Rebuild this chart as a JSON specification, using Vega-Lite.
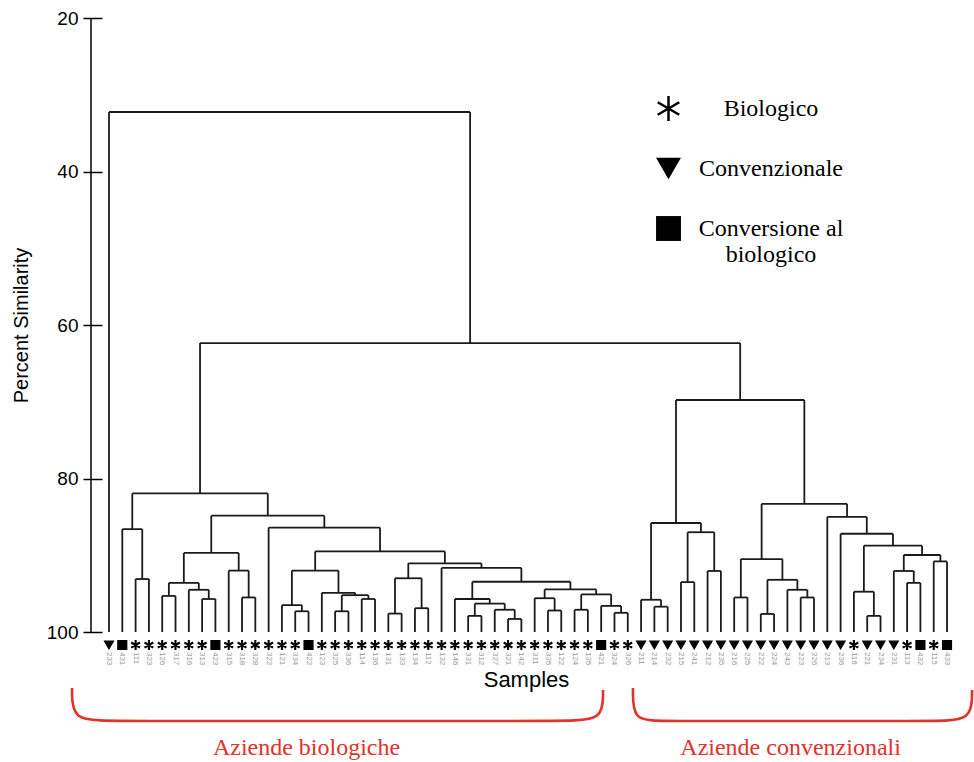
{
  "$schema": "https://vega.github.io/schema/vega-lite/v6.json",
  "width": 870,
  "height": 614,
  "autosize": {"type": "none"},
  "padding": {"left": 91, "top": 18, "right": 13, "bottom": 130},
  "background": "white",
  "config": {"view": {"stroke": null}, "axis": {"grid": false}},
  "datasets": {
    "nodes": [
      {"x1": 3, "h1": 100, "x2": 4, "h2": 100, "h": 93.1},
      {"x1": 2, "h1": 100, "x2": 3.5, "h2": 93.1, "h": 86.6},
      {"x1": 5, "h1": 100, "x2": 6, "h2": 100, "h": 95.3},
      {"x1": 8, "h1": 100, "x2": 9, "h2": 100, "h": 95.7},
      {"x1": 7, "h1": 100, "x2": 8.5, "h2": 95.7, "h": 94.5},
      {"x1": 5.5, "h1": 95.3, "x2": 7.75, "h2": 94.5, "h": 93.6},
      {"x1": 11, "h1": 100, "x2": 12, "h2": 100, "h": 95.5},
      {"x1": 10, "h1": 100, "x2": 11.5, "h2": 95.5, "h": 92.0},
      {"x1": 6.625, "h1": 93.6, "x2": 10.75, "h2": 92.0, "h": 89.7},
      {"x1": 15, "h1": 100, "x2": 16, "h2": 100, "h": 97.3},
      {"x1": 14, "h1": 100, "x2": 15.5, "h2": 97.3, "h": 96.5},
      {"x1": 18, "h1": 100, "x2": 19, "h2": 100, "h": 97.3},
      {"x1": 20, "h1": 100, "x2": 21, "h2": 100, "h": 95.7},
      {"x1": 18.5, "h1": 97.3, "x2": 20.5, "h2": 95.7, "h": 95.2},
      {"x1": 17, "h1": 100, "x2": 19.5, "h2": 95.2, "h": 94.9},
      {"x1": 14.75, "h1": 96.5, "x2": 18.25, "h2": 94.9, "h": 92.0},
      {"x1": 22, "h1": 100, "x2": 23, "h2": 100, "h": 97.6},
      {"x1": 24, "h1": 100, "x2": 25, "h2": 100, "h": 96.9},
      {"x1": 22.5, "h1": 97.6, "x2": 24.5, "h2": 96.9, "h": 93.0},
      {"x1": 28, "h1": 100, "x2": 29, "h2": 100, "h": 97.9},
      {"x1": 31, "h1": 100, "x2": 32, "h2": 100, "h": 98.3},
      {"x1": 30, "h1": 100, "x2": 31.5, "h2": 98.3, "h": 97.1},
      {"x1": 28.5, "h1": 97.9, "x2": 30.75, "h2": 97.1, "h": 96.3},
      {"x1": 27, "h1": 100, "x2": 29.625, "h2": 96.3, "h": 95.7},
      {"x1": 34, "h1": 100, "x2": 35, "h2": 100, "h": 97.2},
      {"x1": 33, "h1": 100, "x2": 34.5, "h2": 97.2, "h": 95.6},
      {"x1": 36, "h1": 100, "x2": 37, "h2": 100, "h": 97.1},
      {"x1": 39, "h1": 100, "x2": 40, "h2": 100, "h": 97.5},
      {"x1": 38, "h1": 100, "x2": 39.5, "h2": 97.5, "h": 96.6},
      {"x1": 36.5, "h1": 97.1, "x2": 38.75, "h2": 96.6, "h": 95.1},
      {"x1": 33.75, "h1": 95.6, "x2": 37.625, "h2": 95.1, "h": 94.45},
      {"x1": 28.3125, "h1": 95.7, "x2": 35.6875, "h2": 94.45, "h": 93.45},
      {"x1": 26, "h1": 100, "x2": 32, "h2": 93.45, "h": 91.65},
      {"x1": 23.5, "h1": 93.0, "x2": 29, "h2": 91.65, "h": 91.05},
      {"x1": 16.5, "h1": 92.0, "x2": 26.25, "h2": 91.05, "h": 89.5},
      {"x1": 13, "h1": 100, "x2": 21.375, "h2": 89.5, "h": 86.4},
      {"x1": 8.6875, "h1": 89.7, "x2": 17.1875, "h2": 86.4, "h": 84.85},
      {"x1": 2.75, "h1": 86.6, "x2": 12.9375, "h2": 84.85, "h": 81.95},
      {"x1": 42, "h1": 100, "x2": 43, "h2": 100, "h": 96.7},
      {"x1": 41, "h1": 100, "x2": 42.5, "h2": 96.7, "h": 95.8},
      {"x1": 44, "h1": 100, "x2": 45, "h2": 100, "h": 93.5},
      {"x1": 46, "h1": 100, "x2": 47, "h2": 100, "h": 92.05},
      {"x1": 44.5, "h1": 93.5, "x2": 46.5, "h2": 92.05, "h": 87.0},
      {"x1": 41.75, "h1": 95.8, "x2": 45.5, "h2": 87.0, "h": 85.8},
      {"x1": 48, "h1": 100, "x2": 49, "h2": 100, "h": 95.5},
      {"x1": 50, "h1": 100, "x2": 51, "h2": 100, "h": 97.65},
      {"x1": 53, "h1": 100, "x2": 54, "h2": 100, "h": 95.5},
      {"x1": 52, "h1": 100, "x2": 53.5, "h2": 95.5, "h": 94.5},
      {"x1": 50.5, "h1": 97.65, "x2": 52.75, "h2": 94.5, "h": 93.2},
      {"x1": 48.5, "h1": 95.5, "x2": 51.625, "h2": 93.2, "h": 90.5},
      {"x1": 58, "h1": 100, "x2": 59, "h2": 100, "h": 97.9},
      {"x1": 57, "h1": 100, "x2": 58.5, "h2": 97.9, "h": 94.75},
      {"x1": 61, "h1": 100, "x2": 62, "h2": 100, "h": 93.6},
      {"x1": 60, "h1": 100, "x2": 61.5, "h2": 93.6, "h": 92.05},
      {"x1": 63, "h1": 100, "x2": 64, "h2": 100, "h": 90.8},
      {"x1": 60.75, "h1": 92.05, "x2": 63.5, "h2": 90.8, "h": 89.97},
      {"x1": 57.75, "h1": 94.75, "x2": 62.125, "h2": 89.97, "h": 88.75},
      {"x1": 56, "h1": 100, "x2": 59.9375, "h2": 88.75, "h": 87.2},
      {"x1": 55, "h1": 100, "x2": 57.96875, "h2": 87.2, "h": 85.0},
      {"x1": 50.0625, "h1": 90.5, "x2": 56.484375, "h2": 85.0, "h": 83.3},
      {"x1": 43.625, "h1": 85.8, "x2": 53.2734, "h2": 83.3, "h": 69.77},
      {"x1": 7.84375, "h1": 81.95, "x2": 48.4492, "h2": 69.77, "h": 62.35},
      {"x1": 1, "h1": 100, "x2": 28.1465, "h2": 62.35, "h": 32.25}
    ],
    "leaves": [
      {"i": 1, "s": "233", "t": "Convenzionale"},
      {"i": 2, "s": "431", "t": "Conversione al biologico"},
      {"i": 3, "s": "111", "t": "Biologico"},
      {"i": 4, "s": "323", "t": "Biologico"},
      {"i": 5, "s": "126", "t": "Biologico"},
      {"i": 6, "s": "317", "t": "Biologico"},
      {"i": 7, "s": "316", "t": "Biologico"},
      {"i": 8, "s": "313", "t": "Biologico"},
      {"i": 9, "s": "423", "t": "Conversione al biologico"},
      {"i": 10, "s": "315", "t": "Biologico"},
      {"i": 11, "s": "318", "t": "Biologico"},
      {"i": 12, "s": "328", "t": "Biologico"},
      {"i": 13, "s": "322", "t": "Biologico"},
      {"i": 14, "s": "121", "t": "Biologico"},
      {"i": 15, "s": "334", "t": "Biologico"},
      {"i": 16, "s": "422", "t": "Conversione al biologico"},
      {"i": 17, "s": "123", "t": "Biologico"},
      {"i": 18, "s": "325", "t": "Biologico"},
      {"i": 19, "s": "336", "t": "Biologico"},
      {"i": 20, "s": "114", "t": "Biologico"},
      {"i": 21, "s": "136", "t": "Biologico"},
      {"i": 22, "s": "131", "t": "Biologico"},
      {"i": 23, "s": "133", "t": "Biologico"},
      {"i": 24, "s": "134", "t": "Biologico"},
      {"i": 25, "s": "112", "t": "Biologico"},
      {"i": 26, "s": "132", "t": "Biologico"},
      {"i": 27, "s": "146", "t": "Biologico"},
      {"i": 28, "s": "331", "t": "Biologico"},
      {"i": 29, "s": "312", "t": "Biologico"},
      {"i": 30, "s": "327", "t": "Biologico"},
      {"i": 31, "s": "321", "t": "Biologico"},
      {"i": 32, "s": "142", "t": "Biologico"},
      {"i": 33, "s": "311", "t": "Biologico"},
      {"i": 34, "s": "335", "t": "Biologico"},
      {"i": 35, "s": "122", "t": "Biologico"},
      {"i": 36, "s": "124", "t": "Biologico"},
      {"i": 37, "s": "135", "t": "Biologico"},
      {"i": 38, "s": "421", "t": "Conversione al biologico"},
      {"i": 39, "s": "324", "t": "Biologico"},
      {"i": 40, "s": "326", "t": "Biologico"},
      {"i": 41, "s": "211", "t": "Convenzionale"},
      {"i": 42, "s": "214", "t": "Convenzionale"},
      {"i": 43, "s": "232", "t": "Convenzionale"},
      {"i": 44, "s": "215", "t": "Convenzionale"},
      {"i": 45, "s": "241", "t": "Convenzionale"},
      {"i": 46, "s": "212", "t": "Convenzionale"},
      {"i": 47, "s": "235", "t": "Convenzionale"},
      {"i": 48, "s": "216", "t": "Convenzionale"},
      {"i": 49, "s": "225", "t": "Convenzionale"},
      {"i": 50, "s": "222", "t": "Convenzionale"},
      {"i": 51, "s": "224", "t": "Convenzionale"},
      {"i": 52, "s": "243", "t": "Convenzionale"},
      {"i": 53, "s": "223", "t": "Convenzionale"},
      {"i": 54, "s": "226", "t": "Convenzionale"},
      {"i": 55, "s": "213", "t": "Convenzionale"},
      {"i": 56, "s": "236", "t": "Convenzionale"},
      {"i": 57, "s": "116", "t": "Biologico"},
      {"i": 58, "s": "221", "t": "Convenzionale"},
      {"i": 59, "s": "234", "t": "Convenzionale"},
      {"i": 60, "s": "231", "t": "Convenzionale"},
      {"i": 61, "s": "113", "t": "Biologico"},
      {"i": 62, "s": "432", "t": "Conversione al biologico"},
      {"i": 63, "s": "115", "t": "Biologico"},
      {"i": 64, "s": "433", "t": "Conversione al biologico"}
    ],
    "brackets": [
      {"g": "bio", "o": 1, "bx": -1.78, "by": 107.3},
      {"g": "bio", "o": 2, "bx": -1.78, "by": 111.6},
      {"g": "bio", "o": 3, "bx": 1.075, "by": 111.6},
      {"g": "bio", "o": 4, "bx": 35.28, "by": 111.6},
      {"g": "bio", "o": 5, "bx": 38.14, "by": 111.6},
      {"g": "bio", "o": 6, "bx": 38.14, "by": 107.55},
      {"g": "conv", "o": 1, "bx": 40.39, "by": 107.3},
      {"g": "conv", "o": 2, "bx": 40.39, "by": 111.6},
      {"g": "conv", "o": 3, "bx": 42.42, "by": 111.6},
      {"g": "conv", "o": 4, "bx": 63.09, "by": 111.6},
      {"g": "conv", "o": 5, "bx": 65.88, "by": 111.6},
      {"g": "conv", "o": 6, "bx": 65.88, "by": 107.56}
    ],
    "notes": [
      {"label": "Aziende biologiche", "ax": 15.85, "ay": 115.1},
      {"label": "Aziende convenzionali", "ax": 52.24, "ay": 115.1}
    ]
  },
  "layer": [
    {
      "data": {"name": "nodes"},
      "mark": {"type": "rule", "color": "#1a1a1a", "strokeWidth": 1.8},
      "encoding": {
        "x": {"field": "x1", "type": "quantitative",
          "scale": {"domain": [-0.3532, 65.051], "nice": false, "zero": false},
          "axis": {"title": "Samples", "labels": false, "ticks": false, "domain": false, "grid": false,
            "titleFont": "Liberation Sans", "titleFontSize": 22, "titleFontWeight": "normal", "titleColor": "#000", "titlePadding": 37}},
        "x2": {"field": "x2"},
        "y": {"field": "h", "type": "quantitative",
          "scale": {"domain": [20, 100], "reverse": true, "nice": false, "zero": false},
          "axis": {"title": "Percent Similarity", "values": [20, 40, 60, 80, 100], "offset": -11, "tickSize": 19,
            "domain": false, "grid": false, "labelPadding": 5, "labelFont": "Liberation Sans", "labelFontSize": 19,
            "labelColor": "#000", "tickColor": "#000", "tickWidth": 1.5, "labelFlush": false, "labelOverlap": false,
            "titleFont": "Liberation Sans", "titleFontSize": 20, "titleFontWeight": "normal", "titleColor": "#000", "titlePadding": 15}}
      }
    },
    {
      "data": {"name": "nodes"},
      "mark": {"type": "rule", "color": "#1a1a1a", "strokeWidth": 1.8},
      "encoding": {
        "x": {"field": "x1", "type": "quantitative",
          "scale": {"domain": [-0.3532, 65.051], "nice": false, "zero": false},
          "axis": {"title": "Samples", "labels": false, "ticks": false, "domain": false, "grid": false,
            "titleFont": "Liberation Sans", "titleFontSize": 22, "titleFontWeight": "normal", "titleColor": "#000", "titlePadding": 37}},
        "y": {"field": "h1", "type": "quantitative",
          "scale": {"domain": [20, 100], "reverse": true, "nice": false, "zero": false},
          "axis": {"title": "Percent Similarity", "values": [20, 40, 60, 80, 100], "offset": -11, "tickSize": 19,
            "domain": false, "grid": false, "labelPadding": 5, "labelFont": "Liberation Sans", "labelFontSize": 19,
            "labelColor": "#000", "tickColor": "#000", "tickWidth": 1.5, "labelFlush": false, "labelOverlap": false,
            "titleFont": "Liberation Sans", "titleFontSize": 20, "titleFontWeight": "normal", "titleColor": "#000", "titlePadding": 15}},
        "y2": {"field": "h"}
      }
    },
    {
      "data": {"name": "nodes"},
      "mark": {"type": "rule", "color": "#1a1a1a", "strokeWidth": 1.8},
      "encoding": {
        "x": {"field": "x2", "type": "quantitative",
          "scale": {"domain": [-0.3532, 65.051], "nice": false, "zero": false},
          "axis": {"title": "Samples", "labels": false, "ticks": false, "domain": false, "grid": false,
            "titleFont": "Liberation Sans", "titleFontSize": 22, "titleFontWeight": "normal", "titleColor": "#000", "titlePadding": 37}},
        "y": {"field": "h2", "type": "quantitative",
          "scale": {"domain": [20, 100], "reverse": true, "nice": false, "zero": false},
          "axis": {"title": "Percent Similarity", "values": [20, 40, 60, 80, 100], "offset": -11, "tickSize": 19,
            "domain": false, "grid": false, "labelPadding": 5, "labelFont": "Liberation Sans", "labelFontSize": 19,
            "labelColor": "#000", "tickColor": "#000", "tickWidth": 1.5, "labelFlush": false, "labelOverlap": false,
            "titleFont": "Liberation Sans", "titleFontSize": 20, "titleFontWeight": "normal", "titleColor": "#000", "titlePadding": 15}},
        "y2": {"field": "h"}
      }
    },
    {
      "data": {"values": [{"a": 1}]},
      "mark": {"type": "rule", "color": "#000", "strokeWidth": 1.5},
      "encoding": {
        "x": {"datum": -0.3532, "type": "quantitative",
          "scale": {"domain": [-0.3532, 65.051], "nice": false, "zero": false},
          "axis": {"title": "Samples", "labels": false, "ticks": false, "domain": false, "grid": false,
            "titleFont": "Liberation Sans", "titleFontSize": 22, "titleFontWeight": "normal", "titleColor": "#000", "titlePadding": 37}},
        "y": {"datum": 20, "type": "quantitative",
          "scale": {"domain": [20, 100], "reverse": true, "nice": false, "zero": false},
          "axis": {"title": "Percent Similarity", "values": [20, 40, 60, 80, 100], "offset": -11, "tickSize": 19,
            "domain": false, "grid": false, "labelPadding": 5, "labelFont": "Liberation Sans", "labelFontSize": 19,
            "labelColor": "#000", "tickColor": "#000", "tickWidth": 1.5, "labelFlush": false, "labelOverlap": false,
            "titleFont": "Liberation Sans", "titleFontSize": 20, "titleFontWeight": "normal", "titleColor": "#000", "titlePadding": 15}},
        "y2": {"datum": 100}
      }
    },
    {
      "data": {"name": "leaves"},
      "mark": {"type": "point", "filled": true, "size": 80, "fill": "#000", "stroke": "#000", "strokeWidth": 1.2, "opacity": 1},
      "encoding": {
        "x": {"field": "i", "type": "quantitative",
          "scale": {"domain": [-0.3532, 65.051], "nice": false, "zero": false},
          "axis": {"title": "Samples", "labels": false, "ticks": false, "domain": false, "grid": false,
            "titleFont": "Liberation Sans", "titleFontSize": 22, "titleFontWeight": "normal", "titleColor": "#000", "titlePadding": 37}},
        "y": {"datum": 101.7, "type": "quantitative",
          "scale": {"domain": [20, 100], "reverse": true, "nice": false, "zero": false},
          "axis": {"title": "Percent Similarity", "values": [20, 40, 60, 80, 100], "offset": -11, "tickSize": 19,
            "domain": false, "grid": false, "labelPadding": 5, "labelFont": "Liberation Sans", "labelFontSize": 19,
            "labelColor": "#000", "tickColor": "#000", "tickWidth": 1.5, "labelFlush": false, "labelOverlap": false,
            "titleFont": "Liberation Sans", "titleFontSize": 20, "titleFontWeight": "normal", "titleColor": "#000", "titlePadding": 15}},
        "shape": {"field": "t", "type": "nominal",
          "scale": {"domain": ["Biologico", "Convenzionale", "Conversione al biologico"],
            "range": ["M-0.1,-1L0.1,-1L0.1,1L-0.1,1ZM0.816,-0.587L0.916,-0.413L-0.816,0.587L-0.916,0.413ZM0.916,0.413L0.816,0.587L-0.916,-0.413L-0.816,-0.587Z", "triangle-down", "square"]},
          "legend": {"title": null, "orient": "none", "legendX": 564, "legendY": 77, "direction": "vertical",
            "padding": 0, "labelFont": "Liberation Serif", "labelFontSize": 24, "labelColor": "#000",
            "labelAlign": "center", "labelOffset": 89, "labelLimit": 400, "symbolSize": 620, "rowPadding": 28,
            "symbolFillColor": "#333", "symbolStrokeColor": "#000", "symbolStrokeWidth": 2,
            "labelExpr": "datum.label == 'Conversione al biologico' ? ['Conversione al', 'biologico'] : datum.label",
            "encode": {"symbols": {"update": {
              "fill": {"signal": "datum.value == 'Biologico' ? '#000' : '#333'"}, "stroke": {"value": "#000"},
              "strokeWidth": {"signal": "datum.value == 'Biologico' ? 2 : 2"},
              "opacity": {"value": 1},
              "size": {"signal": "datum.value == 'Biologico' ? 270 : 620"}}}}}
        }
      }
    },
    {
      "data": {"name": "leaves"},
      "mark": {"type": "text", "angle": 90, "align": "left", "baseline": "middle", "fontSize": 8, "font": "Liberation Sans", "color": "#999"},
      "encoding": {
        "x": {"field": "i", "type": "quantitative",
          "scale": {"domain": [-0.3532, 65.051], "nice": false, "zero": false},
          "axis": {"title": "Samples", "labels": false, "ticks": false, "domain": false, "grid": false,
            "titleFont": "Liberation Sans", "titleFontSize": 22, "titleFontWeight": "normal", "titleColor": "#000", "titlePadding": 37}},
        "y": {"datum": 102.6, "type": "quantitative",
          "scale": {"domain": [20, 100], "reverse": true, "nice": false, "zero": false},
          "axis": {"title": "Percent Similarity", "values": [20, 40, 60, 80, 100], "offset": -11, "tickSize": 19,
            "domain": false, "grid": false, "labelPadding": 5, "labelFont": "Liberation Sans", "labelFontSize": 19,
            "labelColor": "#000", "tickColor": "#000", "tickWidth": 1.5, "labelFlush": false, "labelOverlap": false,
            "titleFont": "Liberation Sans", "titleFontSize": 20, "titleFontWeight": "normal", "titleColor": "#000", "titlePadding": 15}},
        "text": {"field": "s"}
      }
    },
    {
      "data": {"name": "brackets"},
      "mark": {"type": "line", "interpolate": "basis", "color": "#e3312b", "strokeWidth": 2.6},
      "encoding": {
        "x": {"field": "bx", "type": "quantitative",
          "scale": {"domain": [-0.3532, 65.051], "nice": false, "zero": false},
          "axis": {"title": "Samples", "labels": false, "ticks": false, "domain": false, "grid": false,
            "titleFont": "Liberation Sans", "titleFontSize": 22, "titleFontWeight": "normal", "titleColor": "#000", "titlePadding": 37}},
        "y": {"field": "by", "type": "quantitative",
          "scale": {"domain": [20, 100], "reverse": true, "nice": false, "zero": false},
          "axis": {"title": "Percent Similarity", "values": [20, 40, 60, 80, 100], "offset": -11, "tickSize": 19,
            "domain": false, "grid": false, "labelPadding": 5, "labelFont": "Liberation Sans", "labelFontSize": 19,
            "labelColor": "#000", "tickColor": "#000", "tickWidth": 1.5, "labelFlush": false, "labelOverlap": false,
            "titleFont": "Liberation Sans", "titleFontSize": 20, "titleFontWeight": "normal", "titleColor": "#000", "titlePadding": 15}},
        "detail": {"field": "g"},
        "order": {"field": "o"}
      }
    },
    {
      "data": {"name": "notes"},
      "mark": {"type": "text", "align": "center", "baseline": "middle", "font": "Liberation Serif", "fontSize": 24, "color": "#e3312b"},
      "encoding": {
        "x": {"field": "ax", "type": "quantitative",
          "scale": {"domain": [-0.3532, 65.051], "nice": false, "zero": false},
          "axis": {"title": "Samples", "labels": false, "ticks": false, "domain": false, "grid": false,
            "titleFont": "Liberation Sans", "titleFontSize": 22, "titleFontWeight": "normal", "titleColor": "#000", "titlePadding": 37}},
        "y": {"field": "ay", "type": "quantitative",
          "scale": {"domain": [20, 100], "reverse": true, "nice": false, "zero": false},
          "axis": {"title": "Percent Similarity", "values": [20, 40, 60, 80, 100], "offset": -11, "tickSize": 19,
            "domain": false, "grid": false, "labelPadding": 5, "labelFont": "Liberation Sans", "labelFontSize": 19,
            "labelColor": "#000", "tickColor": "#000", "tickWidth": 1.5, "labelFlush": false, "labelOverlap": false,
            "titleFont": "Liberation Sans", "titleFontSize": 20, "titleFontWeight": "normal", "titleColor": "#000", "titlePadding": 15}},
        "text": {"field": "label"}
      }
    }
  ]
}
